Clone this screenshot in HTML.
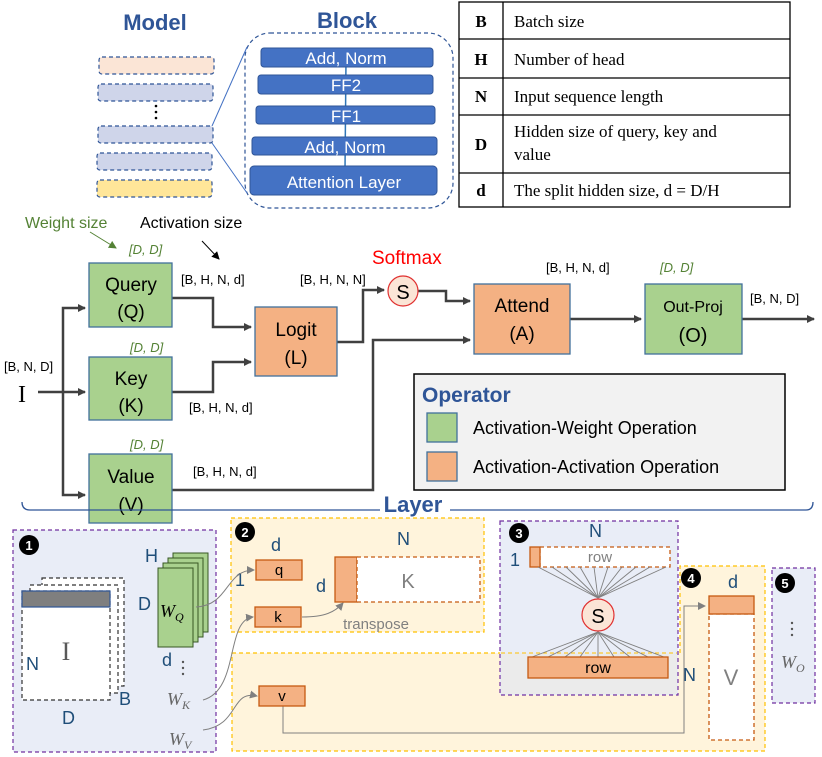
<!DOCTYPE html>
<html><head><meta charset="utf-8"><style>
html,body{margin:0;padding:0;background:#fff}
svg{display:block}
text{font-family:"Liberation Sans","DejaVu Sans",sans-serif}
.s{font-family:"Liberation Serif",serif}
</style></head><body>
<svg width="822" height="757" viewBox="0 0 822 757" xmlns="http://www.w3.org/2000/svg">
<defs>
<marker id="a" markerWidth="8" markerHeight="8" refX="7" refY="4" orient="auto" markerUnits="userSpaceOnUse"><path d="M0,0 L8,4 L0,8 z" fill="#404040"/></marker>
<marker id="g" markerWidth="8" markerHeight="8" refX="7" refY="4" orient="auto" markerUnits="userSpaceOnUse"><path d="M0,0 L8,4 L0,8 z" fill="#808080"/></marker>
<marker id="gr" markerWidth="8" markerHeight="8" refX="7" refY="4" orient="auto" markerUnits="userSpaceOnUse"><path d="M0,0 L8,4 L0,8 z" fill="#548235"/></marker>
<marker id="bk" markerWidth="8" markerHeight="8" refX="7" refY="4" orient="auto" markerUnits="userSpaceOnUse"><path d="M0,0 L8,4 L0,8 z" fill="#000"/></marker>
</defs>

<!-- Top: Model / Block -->
<text x="155" y="30" font-size="22" font-weight="bold" fill="#2f5597" text-anchor="middle">Model</text>
<text x="347" y="28" font-size="22" font-weight="bold" fill="#2f5597" text-anchor="middle">Block</text>
<g stroke="#2f5597" stroke-width="1.2" stroke-dasharray="4,3">
<rect x="99" y="57" width="115" height="17" rx="3" fill="#fbe5d6"/>
<rect x="98" y="84" width="115" height="17" rx="3" fill="#cfd5ea"/>
<rect x="98" y="126" width="115" height="17" rx="3" fill="#cfd5ea"/>
<rect x="97" y="153" width="115" height="17" rx="3" fill="#cfd5ea"/>
<rect x="97" y="180" width="115" height="17" rx="3" fill="#ffe699"/>
<rect x="245" y="33" width="208" height="175" rx="25" fill="none"/>
</g>
<circle cx="156" cy="106" r="1.3" fill="#000"/><circle cx="156" cy="112" r="1.3" fill="#000"/><circle cx="156" cy="118" r="1.3" fill="#000"/>
<line x1="212" y1="126" x2="247" y2="47" stroke="#4472c4" stroke-width="1"/>
<line x1="212" y1="143" x2="247" y2="193" stroke="#4472c4" stroke-width="1"/>
<line x1="346" y1="60" x2="345" y2="170" stroke="#2e75b6" stroke-width="1.5"/>
<g fill="#4472c4" stroke="#2f5597" stroke-width="1">
<rect x="261" y="48" width="172" height="19" rx="3"/>
<rect x="258" y="75" width="175" height="19" rx="3"/>
<rect x="256" y="106" width="179" height="18" rx="3"/>
<rect x="252" y="137" width="185" height="18" rx="3"/>
<rect x="250" y="166" width="187" height="29" rx="4"/>
</g>
<g fill="#fff" font-size="17" text-anchor="middle">
<text x="346" y="64">Add, Norm</text>
<text x="346" y="91">FF2</text>
<text x="346" y="122">FF1</text>
<text x="345" y="153">Add, Norm</text>
<text x="344" y="188">Attention Layer</text>
</g>

<!-- Table -->
<g stroke="#000" stroke-width="1.3" fill="none">
<rect x="459" y="2" width="331" height="205"/>
<line x1="503" y1="2" x2="503" y2="207"/>
<line x1="459" y1="39" x2="790" y2="39"/>
<line x1="459" y1="78" x2="790" y2="78"/>
<line x1="459" y1="115" x2="790" y2="115"/>
<line x1="459" y1="173" x2="790" y2="173"/>
</g>
<g class="s" font-size="17" fill="#000">
<text x="481" y="27" font-weight="bold" text-anchor="middle" class="s">B</text>
<text x="481" y="65" font-weight="bold" text-anchor="middle" class="s">H</text>
<text x="481" y="102" font-weight="bold" text-anchor="middle" class="s">N</text>
<text x="481" y="150" font-weight="bold" text-anchor="middle" class="s">D</text>
<text x="481" y="196" font-weight="bold" text-anchor="middle" class="s">d</text>
<text x="514" y="27" class="s">Batch size</text>
<text x="514" y="65" class="s">Number of head</text>
<text x="514" y="102" class="s">Input sequence length</text>
<text x="514" y="137" class="s">Hidden size of query, key and</text>
<text x="514" y="160" class="s">value</text>
<text x="514" y="196" class="s">The split hidden size, d = D/H</text>
</g>

<!-- Middle flow -->
<text x="25" y="228" font-size="16" fill="#548235">Weight size</text>
<text x="140" y="228" font-size="16" fill="#000">Activation size</text>
<line x1="90" y1="232" x2="116" y2="248" stroke="#548235" stroke-width="1" marker-end="url(#gr)"/>
<line x1="202" y1="241" x2="219" y2="259" stroke="#000" stroke-width="1" marker-end="url(#bk)"/>
<g font-size="13" font-style="italic" fill="#548235">
<text x="129" y="254">[D, D]</text>
<text x="130" y="352">[D, D]</text>
<text x="130" y="449">[D, D]</text>
<text x="660" y="272">[D, D]</text>
</g>
<g font-size="13" fill="#000">
<text x="181" y="284">[B, H, N, d]</text>
<text x="300" y="284">[B, H, N, N]</text>
<text x="189" y="412">[B, H, N, d]</text>
<text x="193" y="476">[B, H, N, d]</text>
<text x="4" y="371">[B, N, D]</text>
<text x="546" y="272">[B, H, N, d]</text>
<text x="750" y="303">[B, N, D]</text>
</g>
<text x="18" y="402" class="s" font-size="24">I</text>
<text x="372" y="264" font-size="19" fill="#ff0000">Softmax</text>

<g stroke="#404040" stroke-width="2.5" fill="none">
<polyline points="38,392 85,392" marker-end="url(#a)"/>
<polyline points="63,392 63,308 85,308" marker-end="url(#a)"/>
<polyline points="63,392 63,495 85,495" marker-end="url(#a)"/>
<polyline points="172,298 213,298 213,327 251,327" marker-end="url(#a)"/>
<polyline points="172,392 213,392 213,362 251,362" marker-end="url(#a)"/>
<polyline points="337,342 363,342 363,290 384,290" marker-end="url(#a)"/>
<polyline points="418,291 446,291 446,301 470,301" marker-end="url(#a)"/>
<polyline points="172,490 373,490 373,340 470,340" marker-end="url(#a)"/>
<polyline points="570,319 641,319" marker-end="url(#a)"/>
<polyline points="742,319 814,319" marker-end="url(#a)"/>
</g>

<g stroke="#41719c" stroke-width="1.3">
<rect x="89" y="263" width="83" height="64" fill="#a9d18e"/>
<rect x="89" y="357" width="83" height="63" fill="#a9d18e"/>
<rect x="89" y="454" width="83" height="69" fill="#a9d18e"/>
<rect x="255" y="307" width="82" height="69" fill="#f4b183"/>
<rect x="474" y="284" width="96" height="70" fill="#f4b183"/>
<rect x="645" y="284" width="97" height="70" fill="#a9d18e"/>
</g>
<circle cx="403" cy="291" r="15" fill="#fbe5d6" stroke="#e03030" stroke-width="1.2"/>
<text x="403" y="299" font-size="20" text-anchor="middle">S</text>
<g font-size="19" text-anchor="middle" fill="#000">
<text x="131" y="291">Query</text><text x="131" y="318">(Q)</text>
<text x="131" y="385">Key</text><text x="131" y="412">(K)</text>
<text x="131" y="483">Value</text><text x="131" y="511">(V)</text>
<text x="296" y="336">Logit</text><text x="296" y="364">(L)</text>
<text x="522" y="312">Attend</text><text x="522" y="340">(A)</text>
<text x="693" y="312" font-size="16">Out-Proj</text><text x="693" y="342" font-size="20">(O)</text>
</g>

<!-- Legend -->
<rect x="414" y="374" width="371" height="116" fill="#f2f2f2" stroke="#000" stroke-width="1.5"/>
<text x="422" y="402" font-size="21" font-weight="bold" fill="#2f5597">Operator</text>
<rect x="427" y="413" width="30" height="29" fill="#a9d18e" stroke="#41719c" stroke-width="1.3"/>
<rect x="427" y="452" width="30" height="29" fill="#f4b183" stroke="#41719c" stroke-width="1.3"/>
<text x="473" y="434" font-size="18">Activation-Weight Operation</text>
<text x="473" y="473" font-size="18">Activation-Activation Operation</text>

<!-- Layer brace -->
<path d="M22,502 Q22,510 30,510 L380,510 M450,510 L806,510 Q813,510 813,502" fill="none" stroke="#2f5597" stroke-width="1.3"/>
<text x="413" y="512" font-size="22" font-weight="bold" fill="#2f5597" text-anchor="middle">Layer</text>

<!-- Bottom panels -->
<path d="M232,653 L680,653 L680,566 L765,566 L765,751 L232,751 Z" fill="#fff4dc" stroke="#ffc000" stroke-width="1.2" stroke-dasharray="4,3"/>
<rect x="231" y="518" width="253" height="114" fill="#fff4dc" stroke="#ffc000" stroke-width="1.2" stroke-dasharray="4,3"/>
<rect x="13" y="530" width="203" height="222" fill="#e9edf7" stroke="#7030a0" stroke-width="1.2" stroke-dasharray="4,3"/>
<rect x="500" y="521" width="178" height="174" fill="#e9edf7" stroke="#7030a0" stroke-width="1.2" stroke-dasharray="4,3"/>
<rect x="501" y="653" width="176" height="41" fill="#ebebeb"/>
<line x1="501" y1="653" x2="677" y2="653" stroke="#ffc000" stroke-dasharray="4,3"/>
<rect x="772" y="568" width="43" height="135" fill="#e9edf7" stroke="#7030a0" stroke-width="1.2" stroke-dasharray="4,3"/>

<g font-size="13" font-weight="bold" fill="#fff" text-anchor="middle">
<circle cx="29" cy="545" r="10" fill="#000"/><text x="29" y="550">1</text>
<circle cx="245" cy="532" r="10" fill="#000"/><text x="245" y="537">2</text>
<circle cx="519" cy="533" r="10" fill="#000"/><text x="519" y="538">3</text>
<circle cx="691" cy="578" r="10" fill="#000"/><text x="691" y="583">4</text>
<circle cx="785" cy="583" r="10" fill="#000"/><text x="785" y="588">5</text>
</g>

<!-- panel 1 -->
<g fill="#fff" stroke="#333" stroke-width="1.2" stroke-dasharray="4,3">
<rect x="42" y="578" width="82" height="108"/>
<rect x="30" y="585" width="88" height="108"/>
<rect x="22" y="591" width="88" height="109"/>
</g>
<rect x="22" y="591" width="88" height="16" fill="#7f7f7f" stroke="#2f5597" stroke-width="1.2"/>
<text x="66" y="660" class="s" font-size="26" fill="#595959" text-anchor="middle">I</text>
<g font-size="18" fill="#1f4e79">
<text x="26" y="670">N</text><text x="62" y="724">D</text><text x="119" y="705">B</text>
<text x="145" y="562">H</text><text x="138" y="610">D</text><text x="162" y="666">d</text>
<text x="235" y="586">1</text><text x="271" y="551">d</text><text x="316" y="592">d</text>
<text x="397" y="545">N</text><text x="510" y="566">1</text><text x="589" y="537">N</text>
<text x="728" y="588">d</text><text x="683" y="681">N</text>
</g>
<g fill="#a9d18e" stroke="#375623" stroke-width="1">
<rect x="173" y="553" width="35" height="79"/>
<rect x="168" y="558" width="35" height="79"/>
<rect x="163" y="563" width="35" height="79"/>
<rect x="158" y="568" width="35" height="79"/>
</g>
<text x="160" y="617" class="s" font-size="18" font-style="italic">W<tspan font-size="12" dy="4">Q</tspan></text>
<g fill="#555"><circle cx="183" cy="662" r="1.2"/><circle cx="183" cy="668" r="1.2"/><circle cx="183" cy="674" r="1.2"/></g>
<text x="167" y="705" class="s" font-size="18" font-style="italic" fill="#666">W<tspan font-size="12" dy="4">K</tspan></text>
<text x="169" y="745" class="s" font-size="18" font-style="italic" fill="#666">W<tspan font-size="12" dy="4">V</tspan></text>

<!-- curves -->
<g stroke="#808080" stroke-width="1" fill="none">
<path d="M196,607 C230,605 225,570 254,570" marker-end="url(#g)"/>
<path d="M203,700 C240,690 225,620 253,617" marker-end="url(#g)"/>
<path d="M203,730 C240,725 230,690 257,696" marker-end="url(#g)"/>
<path d="M302,617 C325,617 335,612 343,603" marker-end="url(#g)"/>
<polyline points="283,706 283,733 684,733 684,606 705,606" marker-end="url(#g)"/>
</g>

<!-- panel 2 -->
<g fill="#f4b183" stroke="#c55a11" stroke-width="1.3">
<rect x="256" y="560" width="46" height="20"/>
<rect x="255" y="607" width="46" height="20"/>
<rect x="335" y="557" width="22" height="45"/>
<rect x="259" y="686" width="46" height="20"/>
</g>
<rect x="357" y="557" width="123" height="45" fill="#fff" stroke="#c55a11" stroke-width="1.3" stroke-dasharray="4,3"/>
<g font-size="15" text-anchor="middle">
<text x="279" y="575">q</text><text x="278" y="622">k</text><text x="282" y="701">v</text>
</g>
<text x="408" y="588" font-size="20" fill="#808080" text-anchor="middle">K</text>
<text x="376" y="629" font-size="15" fill="#808080" text-anchor="middle">transpose</text>

<!-- panel 3 -->
<rect x="540" y="547" width="130" height="20" fill="#fff" stroke="#c55a11" stroke-width="1.3" stroke-dasharray="4,3"/>
<rect x="530" y="547" width="10" height="20" fill="#f4b183" stroke="#c55a11" stroke-width="1.3"/>
<text x="600" y="562" font-size="15" fill="#808080" text-anchor="middle">row</text>
<g stroke="#808080" stroke-width="0.9">
<line x1="538" y1="567" x2="598" y2="598"/><line x1="552" y1="567" x2="598" y2="598"/><line x1="566" y1="567" x2="598" y2="598"/>
<line x1="580" y1="567" x2="598" y2="598"/><line x1="594" y1="567" x2="598" y2="598"/><line x1="608" y1="567" x2="598" y2="598"/>
<line x1="622" y1="567" x2="598" y2="598"/><line x1="636" y1="567" x2="598" y2="598"/><line x1="650" y1="567" x2="598" y2="598"/>
<line x1="666" y1="567" x2="598" y2="598"/>
<line x1="532" y1="657" x2="598" y2="632"/><line x1="548" y1="657" x2="598" y2="632"/><line x1="565" y1="657" x2="598" y2="632"/>
<line x1="580" y1="657" x2="598" y2="632"/><line x1="598" y1="657" x2="598" y2="632"/><line x1="614" y1="657" x2="598" y2="632"/>
<line x1="630" y1="657" x2="598" y2="632"/><line x1="648" y1="657" x2="598" y2="632"/><line x1="664" y1="657" x2="598" y2="632"/>
</g>
<circle cx="598" cy="615" r="16" fill="#fbe5d6" stroke="#e03030" stroke-width="1.2"/>
<text x="598" y="623" font-size="20" text-anchor="middle">S</text>
<rect x="528" y="657" width="140" height="21" fill="#f4b183" stroke="#c55a11" stroke-width="1.3"/>
<text x="598" y="673" font-size="16" text-anchor="middle">row</text>

<!-- panel 4 -->
<rect x="709" y="614" width="45" height="126" fill="#fff" stroke="#c55a11" stroke-width="1.3" stroke-dasharray="4,3"/>
<rect x="709" y="596" width="45" height="18" fill="#f4b183" stroke="#c55a11" stroke-width="1.3"/>
<text x="731" y="685" font-size="22" fill="#808080" text-anchor="middle">V</text>

<!-- panel 5 -->
<g fill="#555"><circle cx="792" cy="623" r="1.2"/><circle cx="792" cy="629" r="1.2"/><circle cx="792" cy="635" r="1.2"/></g>
<text x="781" y="668" class="s" font-size="18" font-style="italic" fill="#666">W<tspan font-size="12" dy="4">O</tspan></text>
</svg>
</body></html>
